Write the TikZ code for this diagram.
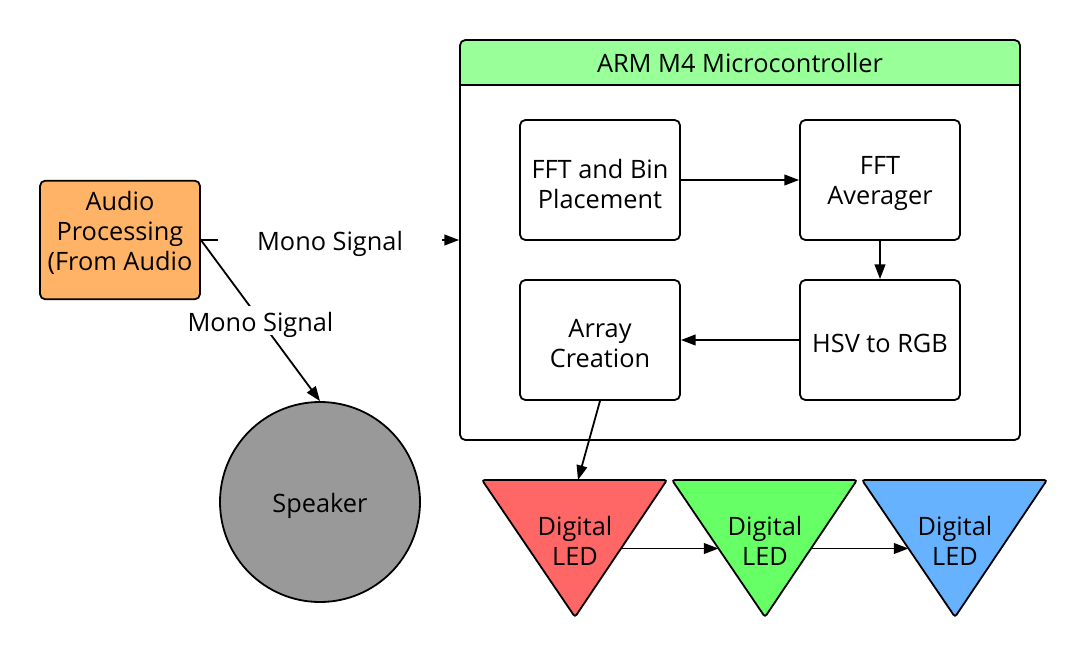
\documentclass[tikz,border=0pt]{standalone}
\usepackage{fontspec}
\setmainfont{Open Sans}
\usetikzlibrary{arrows.meta,calc}
\definecolor{audioorange}{HTML}{FFB366}
\definecolor{hdrgreen}{HTML}{99FF99}
\definecolor{spkgray}{HTML}{999999}
\definecolor{ledred}{HTML}{FF6666}
\definecolor{ledgreen}{HTML}{66FF66}
\definecolor{ledblue}{HTML}{66B2FF}
\begin{document}
\begin{tikzpicture}[x=0.75pt,y=-0.75pt,
  every node/.style={font=\fontsize{19}{22.5}\selectfont},
  lw/.style={line width=1.35pt},
  txt/.style={align=center, inner sep=0pt, yshift=-2.8pt},
  box/.style={draw, lw, rounded corners=4pt, minimum width=120pt, minimum height=90pt, inner sep=0pt},
  arr/.style={lw, -{Triangle[length=11pt,width=8pt]}},
  lbl/.style={fill=white, inner sep=1pt, text height=18pt, text depth=2pt},
  ]
\useasboundingbox (0,0) rectangle (1080,660);
% audio processing
\node[box, fill=audioorange, minimum height=89pt] (audio) at (120,240) {};
\node[txt] (audiotxt) at (120,229) {Audio\\Processing\\(From Audio};
% microcontroller container
\begin{scope}
  \clip[rounded corners=4pt] (460,40) rectangle (1020,440);
  \fill[hdrgreen] (460,40) rectangle (1020,85);
\end{scope}
\node[draw, lw, rounded corners=4pt, minimum width=420pt, minimum height=300pt, inner sep=0pt] (mcu) at (740,240) {};
\draw[lw] (460,85) -- (1020,85);
\node[txt] (title) at (740,59.5) {ARM M4 Microcontroller};
% inner blocks
\node[box, label={[txt]center:FFT and Bin\\Placement}] (fft) at (600,180) {};
\node[box, label={[txt]center:FFT\\Averager}] (avg) at (880,180) {};
\node[box, label={[txt]center:Array\\Creation}] (array) at (600,340) {};
\node[box, label={[txt]center:HSV to RGB}] (hsv) at (880,340) {};
\draw[arr] (fft) -- (avg);
\draw[arr] (avg) -- (hsv);
\draw[arr] (hsv) -- (array);
% speaker
\node[circle, draw, lw, fill=spkgray, minimum size=150pt, inner sep=0pt, label={[txt]center:Speaker}] (spk) at (320,502) {};
% signals
\draw[arr] (audio.east) -- node[lbl, minimum width=168pt] {Mono Signal} (mcu.west);
\draw[arr] (audio.east) -- node[lbl] {Mono Signal} (spk.north);
% LEDs
\foreach \n/\L/\c in {1/482/ledred, 2/672/ledgreen, 3/862/ledblue} {
  \draw[lw, fill=\c, rounded corners=2pt] (\L,480) coordinate (t\n a) -- ++(185,0) coordinate (t\n b) -- ++(-92,137) coordinate (t\n c) -- cycle;
  \node[txt] (led\n) at (\L+93,537) {Digital\\LED};
}
\coordinate (in1) at (578,480);
\coordinate (o1) at ($(t1b)!0.5!(t1c)$);
\coordinate (i2) at ($(t2a)!0.5!(t2c)$);
\coordinate (o2) at ($(t2b)!0.5!(t2c)$);
\coordinate (i3) at ($(t3a)!0.5!(t3c)$);
\draw[arr] (array.south) -- (in1);
\draw[arr] (o1) -- (i2);
\draw[arr] (o2) -- (i3);
\end{tikzpicture}
\end{document}
